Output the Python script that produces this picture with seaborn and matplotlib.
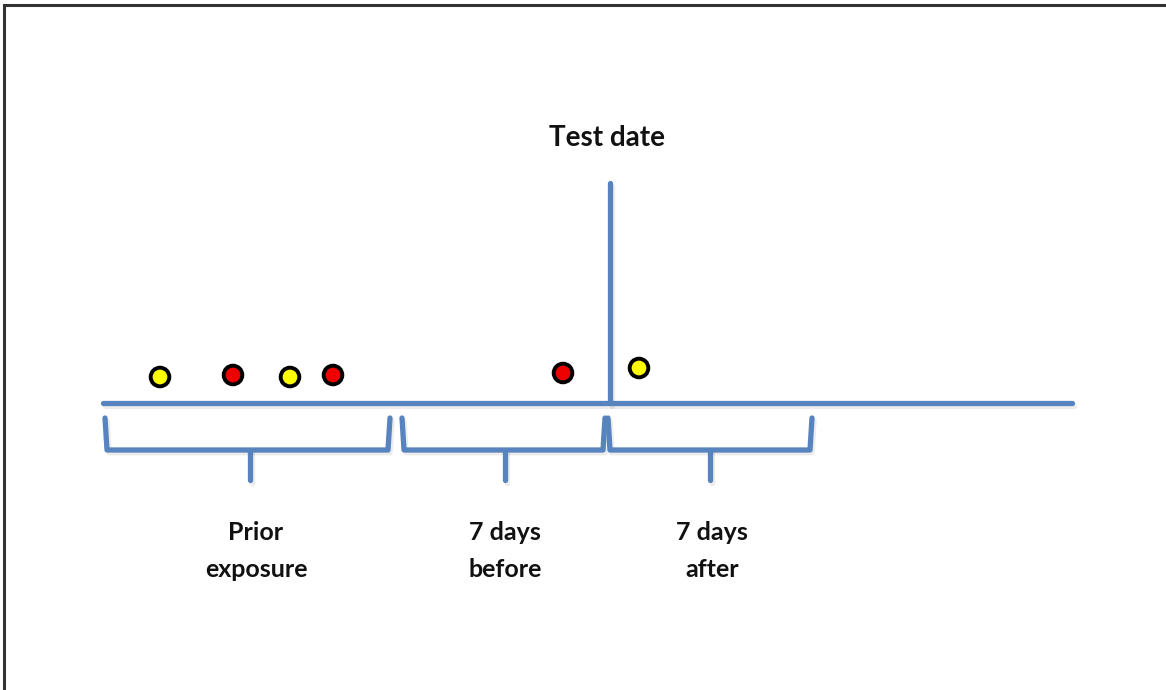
import matplotlib
matplotlib.use("Agg")
import matplotlib.pyplot as plt
import matplotlib.patheffects as pe
import seaborn as sns
import pandas as pd

# diagram drawn in a pixel-like coordinate space (x right, y down)
event_x = [160, 233, 290, 333, 563, 639]
event_y = [377, 375, 377, 375, 373, 368]
event_kind = ["yellow", "red", "yellow", "red", "red", "yellow"]

# brackets: (left, right, middle)
bracket_left = [105, 402, 608]
bracket_right = [390, 605, 812]
bracket_mid = [250, 505, 710]
bracket_labels = ["Prior\nexposure", "7 days\nbefore", "7 days\nafter"]
label_x = [256, 505, 712]

timeline_x = [103, 1072]
timeline_y = 403
test_x = 610
test_top = 183

BLUE = "#5784bf"

sns.set_theme(style="white")
plt.rcParams["font.family"] = ["Lato", "DejaVu Sans"]

fig = plt.figure(figsize=(11.66, 6.9), dpi=100)
ax = fig.add_axes([0, 0, 1, 1])

shadow = [pe.SimpleLineShadow(offset=(1.5, -2), alpha=0.15, shadow_color="gray"), pe.Normal()]

# frame (top and left edges visible)
ax.plot([4, 4, 1166], [690, 5, 5], color="#333333", lw=2.2, solid_joinstyle="miter")

# timeline and test date line
ax.plot(timeline_x, [timeline_y, timeline_y], color=BLUE, lw=3.8, path_effects=shadow)
ax.plot([test_x, test_x], [test_top, timeline_y], color=BLUE, lw=3.8, path_effects=shadow)

# brackets under the timeline
top, bot, tip = 418, 450, 480
for l, r, m in zip(bracket_left, bracket_right, bracket_mid):
    ax.plot([l, l + 2, r - 2, r], [top, bot, bot, top], color=BLUE, lw=3.8,
            solid_joinstyle="round", path_effects=shadow)
    ax.plot([m, m], [bot, tip], color=BLUE, lw=3.8, solid_capstyle="round",
            path_effects=shadow)

for x, lab in zip(label_x, bracket_labels):
    ax.text(x, 551, lab, ha="center", va="center", fontsize=18, fontweight="bold",
            color="#111111", linespacing=1.7)

ax.text(607, 138, "Test date", ha="center", va="center", fontsize=20,
        fontweight="bold", color="#111111")

events = pd.DataFrame({"x": event_x, "y": event_y, "kind": event_kind})
sns.scatterplot(data=events, x="x", y="y", hue="kind",
                palette={"yellow": "#ffff00", "red": "#ee0000"},
                s=180, edgecolor="black", linewidth=2.8, legend=False, ax=ax, zorder=5)
ax.set_xlim(0, 1166)
ax.set_ylim(690, 0)
ax.axis("off")

fig.savefig("out.png", dpi=100, facecolor="white")
